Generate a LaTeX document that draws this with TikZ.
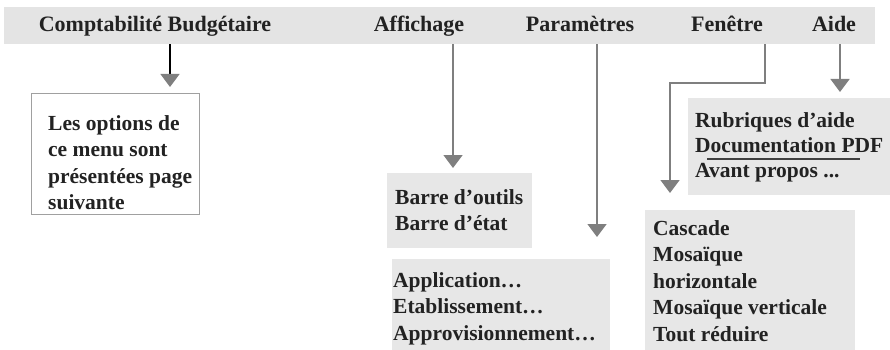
\documentclass[tikz,border=0pt]{standalone}
\usepackage{fontspec}
\setmainfont{Liberation Serif}
\usetikzlibrary{arrows.meta}
\definecolor{bargray}{HTML}{E4E4E4}
\definecolor{panelgray}{HTML}{E7E7E7}
\definecolor{arrowgray}{HTML}{7F7F7F}
\definecolor{bordergray}{HTML}{A0A0A0}
\definecolor{inkcol}{HTML}{222222}
\tikzset{
  panel/.style={fill=panelgray, draw=none, inner sep=0pt, anchor=north west},
  framebox/.style={fill=white, draw=bordergray, line width=1.3pt, inner sep=0pt, anchor=north west},
  hdr/.style={font=\fontsize{22}{26}\selectfont\bfseries, text=inkcol, anchor=base, inner sep=0pt},
  txt/.style={font=\fontsize{21.5}{26.5}\selectfont\bfseries, text=inkcol, align=left, anchor=north west, inner sep=0pt},
  arr/.style={draw=arrowgray, line width=1.5pt, -{Triangle[width=19pt,length=13pt]}},
}
\newcommand{\topstrut}{\rule{0pt}{16pt}}
\begin{document}
\begin{tikzpicture}[x=1pt,y=-1pt]
\useasboundingbox (0,0) rectangle (890,350);
% menu bar
\node[fill=bargray, inner sep=0pt, anchor=north west, minimum width=871pt, minimum height=37pt] (bar) at (4,7) {};
\node[hdr] (h1) at (155,32) {Comptabilité Budgétaire};
\node[hdr] (h2) at (419,32) {Affichage};
\node[hdr] (h3) at (580,32) {Paramètres};
\node[hdr] (h4) at (727,32) {Fenêtre};
\node[hdr] (h5) at (834,32) {Aide};
% boxes
\node[framebox, minimum width=168pt, minimum height=121pt] (b1) at (31,93) {};
\node[panel, minimum width=145pt, minimum height=75pt] (b2) at (387,173) {};
\node[panel, minimum width=218pt, minimum height=95pt] (b3) at (392,259) {};
\node[panel, minimum width=210pt, minimum height=145pt] (b4) at (645,210) {};
\node[panel, minimum width=205pt, minimum height=97pt] (b5) at (688,98) {};
% texts
\node[txt] (t1) at (48,114) {\topstrut Les options de\\ce menu sont\\présentées page\\suivante};
\node[txt] (t2) at (395,188) {\topstrut Barre d’outils\\Barre d’état};
\node[txt] (t3) at (393,271) {\topstrut Application…\\Etablissement…\\Approvisionnement…};
\node[txt] (t4) at (653,219) {\topstrut Cascade\\Mosaïque\\horizontale\\Mosaïque verticale\\Tout réduire};
\node[txt, font=\fontsize{21.5}{25}\selectfont\bfseries] (t5) at (695,111) {\topstrut Rubriques d’aide\\Documentation PDF\\Avant propos ...};
\coordinate (u1) at (707,159);
\coordinate (u2) at (860,159);
\draw[draw=black!75, line width=2.6pt] (u1) -- (u2);
% connectors
\coordinate (c1) at (170,0);
\coordinate (c2) at (453,0);
\coordinate (c3) at (597,0);
\coordinate (f1) at (765,83);
\coordinate (f2) at (670,83);
\coordinate (c5) at (840,0);
\draw[black, line width=1.4pt, -{Triangle[width=19pt,length=13pt,color=arrowgray]}, shorten >=6pt] (bar.south -| c1) -- (c1 |- b1.north);
\draw[arr, shorten >=5pt] (bar.south -| c2) -- (c2 |- b2.north);
\draw[arr, shorten >=22pt] (bar.south -| c3) -- (c3 |- b3.north);
\draw[arr, shorten >=17pt] (bar.south -| f1) -- (f1) -- (f2) -- (f2 |- b4.north);
\draw[arr, shorten >=6pt] (bar.south -| c5) -- (c5 |- b5.north);
\end{tikzpicture}
\end{document}
